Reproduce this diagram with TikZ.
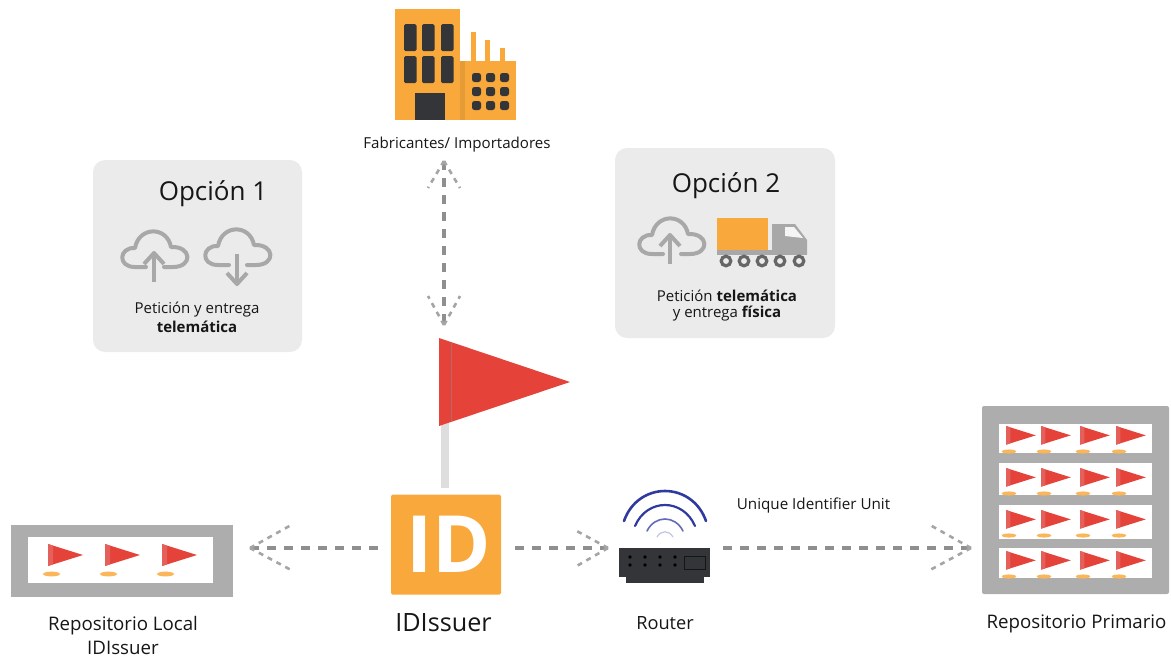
\documentclass[tikz,border=0pt]{standalone}
\usepackage{fontspec}
\setmainfont{Open Sans}
\definecolor{orangeid}{HTML}{F9A93C}
\definecolor{panelgray}{HTML}{EBEBEB}
\definecolor{icongray}{HTML}{A8A8A8}
\definecolor{repogray}{HTML}{ADADAD}
\definecolor{darkicon}{HTML}{333538}
\definecolor{flagred}{HTML}{E5433A}
\definecolor{flaglight}{HTML}{E4605A}
\definecolor{wifi}{HTML}{2F3A9E}
\definecolor{linkgray}{HTML}{8F8F8F}
\definecolor{txt}{HTML}{161616}
\newcommand{\sz}[1]{\fontsize{#1}{#1}\selectfont}
\tikzset{
  x=1pt,y=-1pt,
  panel/.style={fill=panelgray,rounded corners=12pt},
  lab/.style={text=txt,inner sep=0pt,align=center,anchor=center},
  link/.style={draw=linkgray,line width=3.6pt,dash pattern=on 9pt off 8pt},
  chevron/.style={draw=linkgray!80,line width=2.6pt,dash pattern=on 5pt off 5pt},
  cloudline/.style={draw=icongray,line width=4pt,line cap=round,line join=round},
  cloudshape/.pic={
    \draw[cloudline] (-9,0) -- (-20,0) .. controls (-38,0) and (-36,-20) .. (-20,-19)
      .. controls (-16,-41) and (12,-41) .. (16,-20)
      .. controls (37,-21) and (38,0) .. (18,0) -- (9,0);
  },
  miniflag/.pic={
    \fill[flagred] (0,0) -- (35,11) -- (0,22) -- cycle;
    \fill[flaglight] (0,0) -- (5,1.6) -- (5,20.4) -- (0,22) -- cycle;
    \fill[orangeid!85!white] (3.5,30) ellipse [x radius=8.5,y radius=2.4];
  },
}
\begin{document}
\begin{tikzpicture}
\useasboundingbox (0,0) rectangle (1171,657);

% option panels
\path[panel] (93,160) rectangle (302,352);
\path[panel] (615,148) rectangle (835,338);
\node[lab,font=\sz{26}] (op1) at (213,194) {Opción 1};
\node[lab,font=\sz{26}] (op2) at (726,186) {Opción 2};
\node[lab,font=\sz{15}] (op1a) at (197,309.5) {Petición y entrega};
\node[lab,font=\sz{15}\bfseries] (op1b) at (197,327) {telemática};
\node[lab,font=\sz{15}] (op2a) at (727,295.5) {Petición \textbf{telemática}};
\node[lab,font=\sz{15}] (op2b) at (727,314) {y entrega \textbf{física}};

% clouds
\pic at (155,267) {cloudshape};
\draw[cloudline,line cap=butt] (154,282) -- (154,254);
\draw[cloudline,line cap=butt] (144,264) -- (154,253) -- (164,264);
\pic at (238,265) {cloudshape};
\draw[cloudline,line cap=butt] (237,254) -- (237,283);
\draw[cloudline,line cap=butt] (227,273) -- (237,284) -- (247,273);
\pic at (672,254) {cloudshape};
\draw[cloudline,line cap=butt] (670,264) -- (670,236);
\draw[cloudline,line cap=butt] (660,246) -- (670,235) -- (680,246);

% truck
\fill[orangeid] (717,218) rectangle (768,250);
\fill[icongray] (717,250) rectangle (807,255);
\fill[icongray] (772,224) -- (795,224) -- (807,240) -- (807,254) -- (772,254) -- cycle;
\fill[panelgray!50!white] (785,227) -- (794,227) -- (803,238) -- (785,236) -- cycle;
\foreach \wx in {726,744,762,780,799}
  \draw[draw=black!60,line width=3.2pt,fill=panelgray] (\wx,261) circle [radius=4.8];

% factory
\fill[orangeid] (395,9) rectangle (516,120);
\fill[white] (460,9) rectangle (516,61);
\fill[orangeid!92!black] (460,61) rectangle (465,120);
\foreach \cx/\cy in {473/32,487/40,502/48}
  \fill[orangeid] (\cx-2.5,\cy) rectangle (\cx+2.5,61);
\foreach \wx in {404,422,441}
  \foreach \wy in {24,56}
    \fill[darkicon,rounded corners=1.5pt] (\wx,\wy) rectangle (\wx+12.5,\wy+27);
\fill[darkicon] (415,93) rectangle (445,120);
\foreach \wx in {472,486,500}
  \foreach \wy in {73,87,101}
    \fill[darkicon,rounded corners=2.5pt] (\wx,\wy) rectangle (\wx+9,\wy+9);
\node[lab,font=\sz{15.1}] (maker) at (457,144.5) {Fabricantes/ Importadores};

% flag
\fill[black!13] (441,420) rectangle (449,488);
\fill[flagred] (439,338) -- (570,382) -- (439,426) -- cycle;
\draw[flaglight!70!black!80!white,line width=.8pt] (451,342) -- (451,422);
\coordinate (flagtop) at (444,325);

% ID box
\node[fill=orangeid,rounded corners=1.5pt,inner sep=0pt,minimum width=110pt,minimum height=100pt] (idbox) at (446,544.5) {};
\node[inner sep=0pt,text=white,font=\sz{79}\bfseries] (idmark) at (449,544.5) {ID};
\node[lab,font=\sz{25.2}] (idname) at (443.5,622.5) {IDIssuer};

% router
\node[fill=darkicon,inner sep=0pt,minimum width=91pt,minimum height=29pt] (router) at (664.5,562.5) {};
\fill[darkicon] (626,577) rectangle (704,583);
\foreach \dx in {630,645,660,675}
  \foreach \dy in {557,565}
    \fill[black] (\dx,\dy) circle [radius=1.8];
\draw[draw=black!60!darkicon,line width=1pt] (684,556) rectangle (705,569);
\draw[wifi,line width=2.6pt,line cap=round] (624,521) .. controls (638,481) and (692,481) .. (706,521);
\draw[wifi,line width=2.2pt,line cap=round] (635,526) .. controls (647,498) and (683,498) .. (695,526);
\draw[wifi!75!white,line width=1.6pt,line cap=round] (647,531) .. controls (655,515) and (675,515) .. (683,531);
\draw[wifi!30!white,line width=1.2pt,line cap=round] (657,537) .. controls (661,530) and (669,530) .. (673,537);
\node[lab,font=\sz{18.2}] (routername) at (665,623) {Router};
\node[lab,font=\sz{15.2}] (uiu) at (813.5,506) {Unique Identifier Unit};

% local repository
\node[fill=repogray,inner sep=0pt,minimum width=222pt,minimum height=72pt] (local) at (122,561) {};
\fill[white] (28,537) rectangle (213,583);
\foreach \fx in {48,105,162} \pic at (\fx,544) {miniflag};
\node[lab,font=\sz{18.7},align=center] (localname) at (123,635.5) {Repositorio Local\\[5pt]IDIssuer};

% primary repository
\node[fill=repogray,rounded corners=2pt,inner sep=0pt,minimum width=187pt,minimum height=188pt] (primary) at (1075.5,500) {};
\foreach \ya/\yb/\yf in {424/453/426,463/495/468,505/539/510,548/578/551}{
  \fill[white] (999,\ya) rectangle (1152,\yb);
  \foreach \fx in {1006,1041,1080,1116} \pic[scale=.85] at (\fx,\yf) {miniflag};
}
\node[lab,font=\sz{18.7}] (primaryname) at (1076.5,623.5) {Repositorio Primario};

% connectors
\coordinate (mkport) at (444,161);
\coordinate (idl) at (378,548);
\coordinate (idr) at (515,548);
\coordinate (localport) at (250,548);
\coordinate (routerport) at (608,548);
\coordinate (routerout) at (723,548);
\coordinate (primaryport) at (971,548);
\draw[link] (mkport) -- (flagtop);
\draw[link] (idl) -- (localport);
\draw[link] (idr) -- (routerport);
\draw[link] (routerout) -- (primaryport);
\draw[chevron] (mkport) -- ++(-16,27);
\draw[chevron] (mkport) -- ++(16,27);
\draw[chevron] (flagtop) -- ++(-16,-29);
\draw[chevron] (flagtop) -- ++(16,-29);
\draw[chevron] (localport) -- ++(43,-24);
\draw[chevron] (localport) -- ++(43,23);
\draw[chevron] (routerport) -- ++(-33,-18);
\draw[chevron] (routerport) -- ++(-33,19);
\draw[chevron] (primaryport) -- ++(-41,-23);
\draw[chevron] (primaryport) -- ++(-41,22);
\end{tikzpicture}
\end{document}
